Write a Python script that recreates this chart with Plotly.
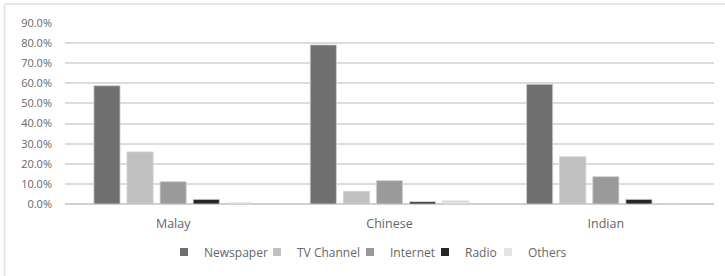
import plotly.graph_objects as go

categories = ["Malay", "Chinese", "Indian"]
series_names = ["Newspaper", "TV Channel", "Internet", "Radio", "Others"]
newspaper = [0.588, 0.791, 0.595]
tv_channel = [0.259, 0.063, 0.235]
internet = [0.111, 0.116, 0.136]
radio = [0.023, 0.011, 0.023]
others = [0.005, 0.015, 0.003]
tick_vals = [0, 0.1, 0.2, 0.3, 0.4, 0.5, 0.6, 0.7, 0.8, 0.9]
tick_text = ["0.0%", "10.0%", "20.0%", "30.0%", "40.0%", "50.0%", "60.0%", "70.0%", "80.0%", "90.0%"]

colors = ["#6f6f6f", "#c0c0c0", "#9a9a9a", "#262626", "#e3e3e3"]
values = [newspaper, tv_channel, internet, radio, others]
legend_px = [184, 277, 370, 445, 508]  # legend square centres (pixels)

W, H = 725, 276
L, R, T, B = 65, 11, 23, 72
pw = W - L - R
ph = H - T - B
txt = "#666666"
font_family = "Open Sans, Liberation Sans, sans-serif"

fig = go.Figure()
legend_layouts = {}
for i, (name, vals, col) in enumerate(zip(series_names, values, colors)):
    lg = "legend" if i == 0 else f"legend{i + 1}"
    fig.add_trace(go.Bar(
        x=categories, y=vals, name=name, showlegend=False, legendgroup=name,
        marker=dict(color=col, line=dict(color="#d0d0d0", width=0.8)),
    ))
    fig.add_trace(go.Scatter(
        x=[None], y=[None], mode="markers", name=name, legend=lg, legendgroup=name,
        marker=dict(symbol="square", size=8, color=col),
    ))
    legend_layouts[lg] = dict(
        orientation="h", x=(legend_px[i] - 20 - L) / pw, xanchor="left",
        y=(204 - 252) / ph, yanchor="middle", bgcolor="rgba(0,0,0,0)",
        font=dict(family=font_family, size=12, color=txt), itemwidth=30,
    )

fig.update_layout(
    width=W, height=H,
    margin=dict(l=L, r=R, t=T, b=B, autoexpand=False),
    paper_bgcolor="white", plot_bgcolor="white",
    barmode="group", bargap=0.235, bargroupgap=0.21,
    font=dict(family=font_family, size=11, color=txt),
    showlegend=True,
    xaxis=dict(showgrid=False, showline=False, ticks="", automargin=False,
               ticklabelstandoff=10, tickfont=dict(size=12.5, color=txt)),
    yaxis=dict(range=[0, 0.9], tickvals=tick_vals, ticktext=tick_text, showgrid=True,
               gridcolor="#dcdcdc", gridwidth=1.5, zeroline=True, zerolinecolor="#d0d0d0",
               zerolinewidth=1.5, showline=False, ticks="", ticklen=0, automargin=False,
               ticklabelstandoff=12, tickfont=dict(size=11, color=txt)),
    shapes=[
        dict(type="line", xref="paper", yref="paper",
             x0=(4.5 - L) / pw, x1=(W - L) / pw, y0=(H - B - 4) / ph, y1=(H - B - 4) / ph,
             line=dict(color="#e0e0e0", width=1.5)),
        dict(type="line", xref="paper", yref="paper",
             x0=(4.5 - L) / pw, x1=(4.5 - L) / pw, y0=(H - B - 4) / ph, y1=-(B) / ph,
             line=dict(color="#e0e0e0", width=1.5)),
    ],
    **legend_layouts,
)

fig.write_html("out.html", config={"displayModeBar": False},
               post_script="document.body.style.margin='0';document.body.style.overflow='hidden';")
